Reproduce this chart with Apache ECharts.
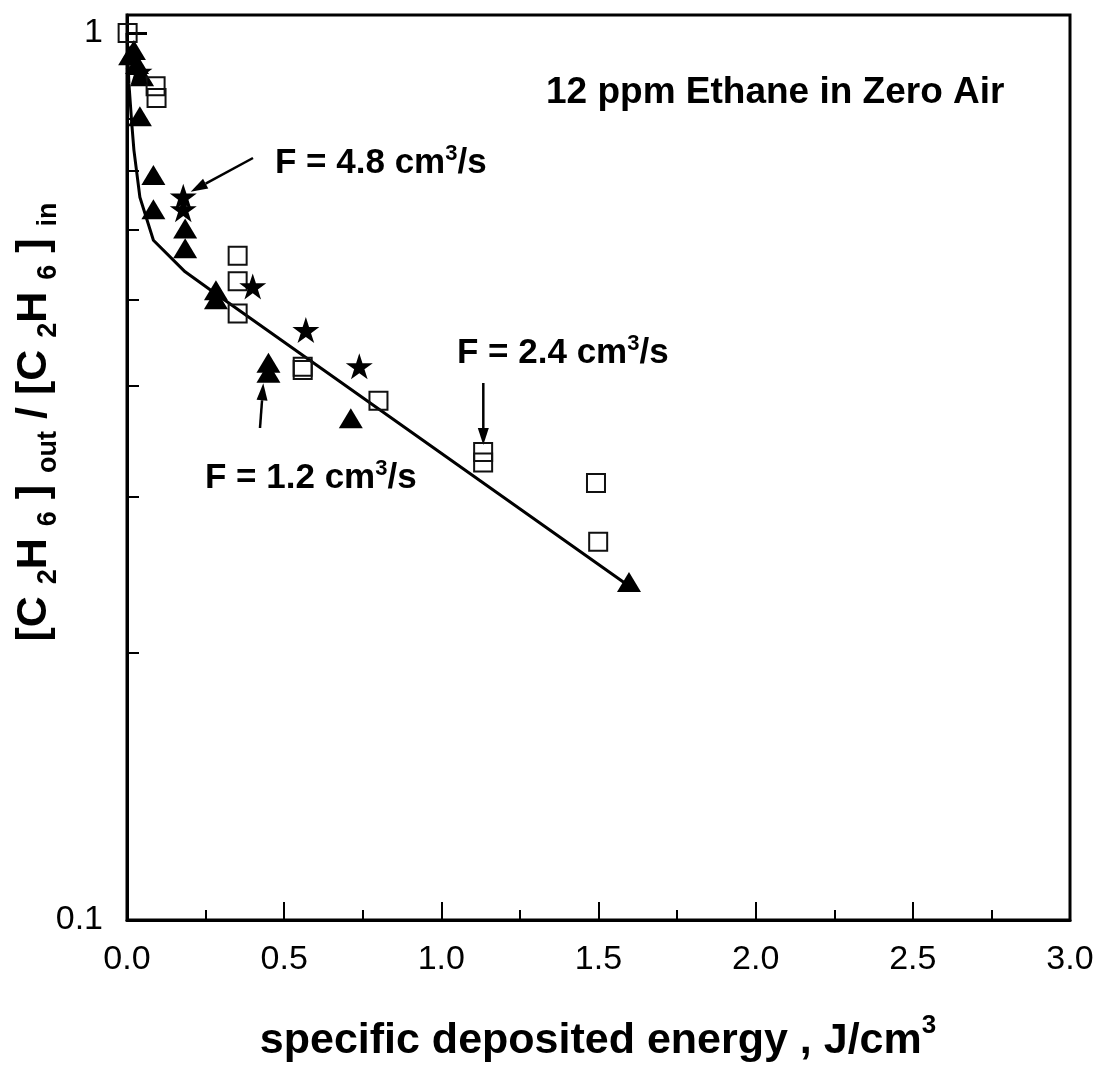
<!DOCTYPE html>
<html>
<head>
<meta charset="utf-8">
<title>Ethane removal vs deposited energy</title>
<script src="https://cdn.jsdelivr.net/npm/echarts@6/dist/echarts.min.js"></script>
<style>
  html, body { margin: 0; padding: 0; background: #fff; }
  #chart { width: 1100px; height: 1066px; }
</style>
</head>
<body>
<div id="chart"></div>
<script>
// values
var squareX = [0.002, 0.091, 0.094, 0.352, 0.352, 0.352, 0.559, 0.559, 0.800, 1.133, 1.133, 1.492, 1.499];
var squareY = [1.0, 0.871, 0.845, 0.561, 0.525, 0.483, 0.4205, 0.417, 0.385, 0.337, 0.328, 0.311, 0.267];

var triX = [0.010, 0.022, 0.032, 0.048, 0.041, 0.084, 0.084, 0.185, 0.185, 0.283, 0.283, 0.450, 0.450, 0.712, 1.597];
var triY = [0.944, 0.957, 0.923, 0.894, 0.806, 0.692, 0.633, 0.602, 0.572, 0.513, 0.501, 0.425, 0.414, 0.368, 0.2405];

var starX = [0.038, 0.179, 0.179, 0.400, 0.569, 0.739];
var starY = [0.904, 0.654, 0.633, 0.518, 0.4625, 0.421];

var fitX = [0, 0.006, 0.015, 0.022, 0.041, 0.084, 0.185, 0.280, 1.597];
var fitY = [1.0, 0.878, 0.792, 0.738, 0.653, 0.584, 0.538, 0.509, 0.238];

var yMajorTicks = [0.1, 1];
var yMinorTicks = [0.2, 0.3, 0.4, 0.5, 0.6, 0.7, 0.8, 0.9];

var FONT = '"Liberation Sans", Arial, Helvetica, sans-serif';
var STAR = 'path://M50,0 L61.23,34.55 L97.55,34.55 L68.17,55.9 L79.39,90.45 L50,69.1 L20.61,90.45 L31.83,55.9 L2.45,34.55 L38.77,34.55 Z';

function pairs(xs, ys) {
    var out = [];
    for (var i = 0; i < xs.length; i++) out.push([xs[i], ys[i]]);
    return out;
}

// arrow = shaft + filled head, tip at (x2,y2)
function arrow(x1, y1, x2, y2) {
    var dx = x2 - x1, dy = y2 - y1;
    var len = Math.sqrt(dx * dx + dy * dy);
    var ux = dx / len, uy = dy / len;
    var hl = 17, hw = 5.5;
    var bx = x2 - ux * hl, by = y2 - uy * hl;
    return [
        { type: 'line', silent: true, shape: { x1: x1, y1: y1, x2: bx, y2: by },
          style: { stroke: '#000', lineWidth: 2.5 } },
        { type: 'polygon', silent: true,
          shape: { points: [[x2, y2], [bx - uy * hw, by + ux * hw], [bx + uy * hw, by - ux * hw]] },
          style: { fill: '#000' } }
    ];
}

var annRich = {
    m: { fontSize: 35, fontWeight: 'bold', fontFamily: FONT, color: '#000', lineHeight: 36, padding: [3, 0, 0, 0], verticalAlign: 'top' },
    p: { fontSize: 22, fontWeight: 'bold', fontFamily: FONT, color: '#000', lineHeight: 22, verticalAlign: 'top' }
};

function flowLabel(x, y, val) {
    return { type: 'text', silent: true, x: x, y: y,
        style: { text: '{m|F = ' + val + ' cm}{p|3}{m|/s}', rich: annRich, align: 'left', verticalAlign: 'middle' } };
}

var graphics = [
    { type: 'text', silent: true, x: 546, y: 93,
      style: { text: '12 ppm Ethane in Zero Air', font: 'bold 37px ' + FONT, fill: '#000', align: 'left', verticalAlign: 'middle' } },
    flowLabel(275, 161, '4.8'),
    flowLabel(457, 351, '2.4'),
    flowLabel(205, 476, '1.2'),
    // x axis title
    { type: 'text', silent: true, x: 598, y: 1031,
      style: {
        text: '{m|specific deposited energy , J/cm}{p|3}', align: 'center', verticalAlign: 'middle',
        rich: {
            m: { fontSize: 43, fontWeight: 'bold', fontFamily: FONT, color: '#000', lineHeight: 43, padding: [10, 0, 0, 0], verticalAlign: 'top' },
            p: { fontSize: 26, fontWeight: 'bold', fontFamily: FONT, color: '#000', lineHeight: 26, padding: [3, 0, 0, 0], verticalAlign: 'top' }
        }
      } },
    // y axis title
    { type: 'text', silent: true, x: 35, y: 422, rotation: Math.PI / 2,
      style: {
        text: '{m|[C }{s|2}{m|H }{s|6}{m| ] }{s|out}{m| / [C }{s|2}{m|H }{s|6}{m| ] }{s|in}',
        align: 'center', verticalAlign: 'middle',
        rich: {
            m: { fontSize: 43, fontWeight: 'bold', fontFamily: FONT, color: '#000', lineHeight: 44, verticalAlign: 'top' },
            s: { fontSize: 27, fontWeight: 'bold', fontFamily: FONT, color: '#000', lineHeight: 27, padding: [22, 0, 0, 0], verticalAlign: 'top' }
        }
      } }
];
graphics = graphics.concat(arrow(253, 158, 190.7, 191.7));
graphics = graphics.concat(arrow(483.3, 383, 483.3, 445));
graphics = graphics.concat(arrow(260, 428, 263.3, 383.3));

var option = {
    animation: false,
    backgroundColor: '#fff',
    grid: {
        left: 127, right: 30, top: 15, bottom: 146,
        show: true, borderColor: '#000', borderWidth: 3, backgroundColor: 'transparent',
        outerBoundsMode: 'none', containLabel: false
    },
    xAxis: {
        type: 'value', min: 0, max: 3, interval: 0.5,
        axisLine: { show: true, onZero: false, lineStyle: { color: '#000', width: 3 } },
        axisTick: { show: true, inside: true, length: 18, lineStyle: { color: '#000', width: 2 } },
        minorTick: { show: true, splitNumber: 2, length: 10, lineStyle: { color: '#000', width: 2 } },
        axisLabel: { margin: 23, fontSize: 34, fontFamily: FONT, color: '#000',
            formatter: function (v) { return v.toFixed(1); } },
        splitLine: { show: false }
    },
    yAxis: [{
        type: 'log', logBase: 10, min: 0.1, max: 1.048,
        axisLine: { show: true, onZero: false, lineStyle: { color: '#000', width: 3 } },
        axisTick: { show: true, inside: true, length: 20, customValues: yMajorTicks, lineStyle: { color: '#000', width: 3 } },
        axisLabel: { margin: 24, fontSize: 34, fontFamily: FONT, color: '#000', customValues: yMajorTicks,
            formatter: function (v) { return v < 0.5 ? '0.1' : '1'; } },
        splitLine: { show: false }
    }, {
        type: 'log', logBase: 10, min: 0.1, max: 1.048, position: 'left',
        axisLine: { show: false },
        axisTick: { show: true, inside: true, length: 12, customValues: yMinorTicks, lineStyle: { color: '#000', width: 2 } },
        axisLabel: { show: false },
        splitLine: { show: false }
    }],
    series: [{
        type: 'line', data: pairs(fitX, fitY), symbol: 'none', z: 2,
        lineStyle: { color: '#000', width: 3 }
    }, {
        type: 'scatter', data: pairs(triX, triY), symbol: 'triangle', symbolSize: [24, 20], z: 3,
        itemStyle: { color: '#000', opacity: 1 }
    }, {
        type: 'scatter', data: pairs(squareX, squareY), symbol: 'rect', symbolSize: 18, z: 4,
        itemStyle: { color: 'rgba(0,0,0,0)', borderColor: '#111', borderWidth: 2, opacity: 1 }
    }, {
        type: 'scatter', data: pairs(starX, starY), symbol: STAR, symbolSize: [27, 26], z: 5,
        itemStyle: { color: '#000', opacity: 1 }
    }],
    graphic: graphics
};

var chart = echarts.init(document.getElementById('chart'), null, { renderer: 'canvas' });
chart.setOption(option);
</script>
</body>
</html>
